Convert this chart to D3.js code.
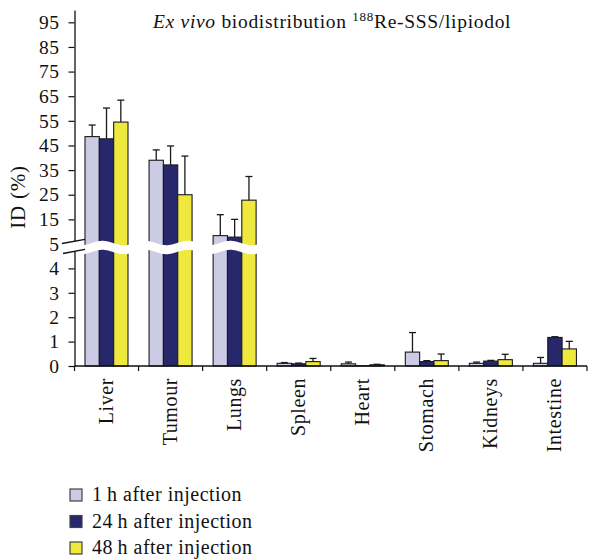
<!DOCTYPE html>
<html>
<head>
<meta charset="utf-8">
<script src="https://cdn.jsdelivr.net/npm/d3@7"></script>
<style>
html,body{margin:0;padding:0;background:#fff;}
svg{display:block;}
svg text{font-family:"Liberation Serif","Tinos","DejaVu Serif",serif !important;fill:#111;}
</style>
</head>
<body>
<svg id="chart" width="589" height="560"></svg>
<script>
const categories = ["Liver","Tumour","Lungs","Spleen","Heart","Stomach","Kidneys","Intestine"];
const seriesNames = ["1\u2009h after injection","24\u2009h after injection","48\u2009h after injection"];
const seriesKeys = ["h1","h24","h48"];
const colors = ["#cbcbe5","#27276c","#efe83e"];
const values1h  = [48.6, 39.0, 8.4, 0.11, 0.09, 0.57, 0.11, 0.11];
const values24h = [47.7, 37.1, 7.8, 0.09, 0.01, 0.18, 0.20, 1.17];
const values48h = [54.5, 25.0, 22.8, 0.18, 0.05, 0.22, 0.26, 0.70];
const err1h  = [4.7, 4.2, 8.5, 0.03, 0.07, 0.80, 0.05, 0.24];
const err24h = [12.5, 7.7, 7.2, 0.03, 0.00, 0.04, 0.03, 0.03];
const err48h = [8.9, 15.7, 9.6, 0.13, 0.02, 0.27, 0.22, 0.31];
const lowTicks = [0,1,2,3,4];
const highTicks = [5,15,25,35,45,55,65,75,85,95];
const titleMain = "biodistribution ";
const titleItalic = "Ex vivo";
const titleSup = "188";
const titleEnd = "Re-SSS/lipiodol";
const yLabel = "ID (%)";

const vals = [values1h, values24h, values48h];
const errs = [err1h, err24h, err48h];

const svg = d3.select("#chart");
const x0 = 74.5, x1 = 587, yBase = 366, yBreak = 244, yTop = 10;

const yLow = d3.scaleLinear().domain([0,5]).range([yBase, yBreak]);
const yHigh = d3.scaleLinear().domain([5,100]).range([yBreak, yTop]);
const y = v => v <= 5 ? yLow(v) : yHigh(v);

const x = d3.scaleBand().domain(categories).range([x0, x1]).paddingInner(0).paddingOuter(0);
const xs = d3.scaleBand().domain(seriesKeys).range([10.5, 53.5]);

const groups = svg.append("g").selectAll("g").data(categories).join("g")
  .attr("transform", d => `translate(${x(d)},0)`);

seriesKeys.forEach((k, si) => {
  groups.append("rect")
    .attr("x", xs(k))
    .attr("width", xs.bandwidth())
    .attr("y", (d,i) => y(vals[si][i]))
    .attr("height", (d,i) => yBase - y(vals[si][i]))
    .attr("fill", colors[si])
    .attr("stroke", "#1a1a1a")
    .attr("stroke-width", 1.1);
  groups.each(function(d,i){
    const e = errs[si][i];
    if (e <= 0) return;
    const g = d3.select(this);
    const cx = xs(k) + xs.bandwidth()/2;
    g.append("line").attr("x1", cx).attr("x2", cx)
      .attr("y1", y(vals[si][i])).attr("y2", y(vals[si][i] + e))
      .attr("stroke", "#1a1a1a").attr("stroke-width", 1.3);
    g.append("line").attr("x1", cx-3.5).attr("x2", cx+3.5)
      .attr("y1", y(vals[si][i] + e)).attr("y2", y(vals[si][i] + e))
      .attr("stroke", "#1a1a1a").attr("stroke-width", 1.3);
  });
});

// break wavy white band
const waveStart = x0 + 4, waveEnd = x(categories[2]) + 58;
const ptsTop = [], ptsBot = [];
for (let px = waveStart; px <= waveEnd; px += 1) {
  const w = 2.2 * Math.sin((px - x0) / 64 * 2 * Math.PI * 1.5 + 0.6);
  ptsTop.push([px, 243 + w]);
  ptsBot.push([px, 252 + w]);
}
const area = ptsTop.concat(ptsBot.reverse());
svg.append("path").attr("d", d3.line()(area) + "Z").attr("fill", "#fff");

// axes
const fmt = d3.format("d");
const axHigh = d3.axisLeft(yHigh).tickValues(highTicks).tickFormat(fmt).tickSize(6).tickSizeOuter(0).tickPadding(9);
const axLow = d3.axisLeft(yLow).tickValues(lowTicks).tickFormat(fmt).tickSize(6).tickSizeOuter(0).tickPadding(9);
const gH = svg.append("g").attr("transform", `translate(${x0},0)`).call(axHigh);
const gL = svg.append("g").attr("transform", `translate(${x0},0)`).call(axLow);
[gH, gL].forEach(g => {
  g.attr("font-family", null);
  g.selectAll("path.domain").attr("stroke", "#111").attr("stroke-width", 1.3);
  g.selectAll(".tick line").attr("stroke", "#111").attr("stroke-width", 1.2);
  g.selectAll(".tick text").attr("font-size", 19.5).attr("letter-spacing", 0.5).attr("fill", "#111");
});
gH.selectAll(".tick").filter(d => d === 5).select("line").remove();

svg.append("rect").attr("x", x0 - 2).attr("y", 241.5).attr("width", 4).attr("height", 9.5).attr("fill", "#fff");
svg.append("line").attr("x1", 62).attr("y1", 243.5).attr("x2", 85).attr("y2", 239.3).attr("stroke", "#111").attr("stroke-width", 1.3);
svg.append("line").attr("x1", 63).attr("y1", 253.5).attr("x2", 85).attr("y2", 249.3).attr("stroke", "#111").attr("stroke-width", 1.3);

// x axis
const gx = svg.append("g");
gx.append("line").attr("x1", x0).attr("x2", x1).attr("y1", yBase).attr("y2", yBase)
  .attr("stroke", "#111").attr("stroke-width", 1.3);
const bounds = categories.map(c => x(c)).concat([x1]);
gx.selectAll("line.tk").data(bounds).join("line").attr("class","tk")
  .attr("x1", d => d).attr("x2", d => d).attr("y1", yBase).attr("y2", yBase + 5)
  .attr("stroke", "#111").attr("stroke-width", 1.2);
gx.selectAll("text.cat").data(categories).join("text").attr("class","cat")
  .attr("transform", d => `translate(${x(d) + x.bandwidth()/2 + 6.5},378) rotate(-90)`)
  .attr("text-anchor", "end")
  .attr("font-size", 20)
  .attr("letter-spacing", 0.6)
  .text(d => d);

svg.append("text")
  .attr("transform", "translate(25,197) rotate(-90)")
  .attr("text-anchor", "middle")
  .attr("font-size", 21)
  .attr("letter-spacing", 0.8)
  .text(yLabel);

const t = svg.append("text").attr("x", 153).attr("y", 28).attr("font-size", 19.5).attr("letter-spacing", 0.7);
t.append("tspan").attr("font-style", "italic").text(titleItalic);
t.append("tspan").text(" " + titleMain);
t.append("tspan").attr("font-size", 13).attr("dy", -7).text(titleSup);
t.append("tspan").attr("dy", 7).text(titleEnd);

const lg = svg.append("g");
seriesNames.forEach((s, i) => {
  const cy = 495 + i * 26.5;
  lg.append("rect").attr("x", 70).attr("y", cy - 6).attr("width", 12).attr("height", 12)
    .attr("fill", colors[i]).attr("stroke", "#444").attr("stroke-width", 1.2);
  lg.append("text").attr("x", 92).attr("y", cy + 6).attr("font-size", 20).attr("letter-spacing", 0.5).text(s);
});
</script>
</body>
</html>
